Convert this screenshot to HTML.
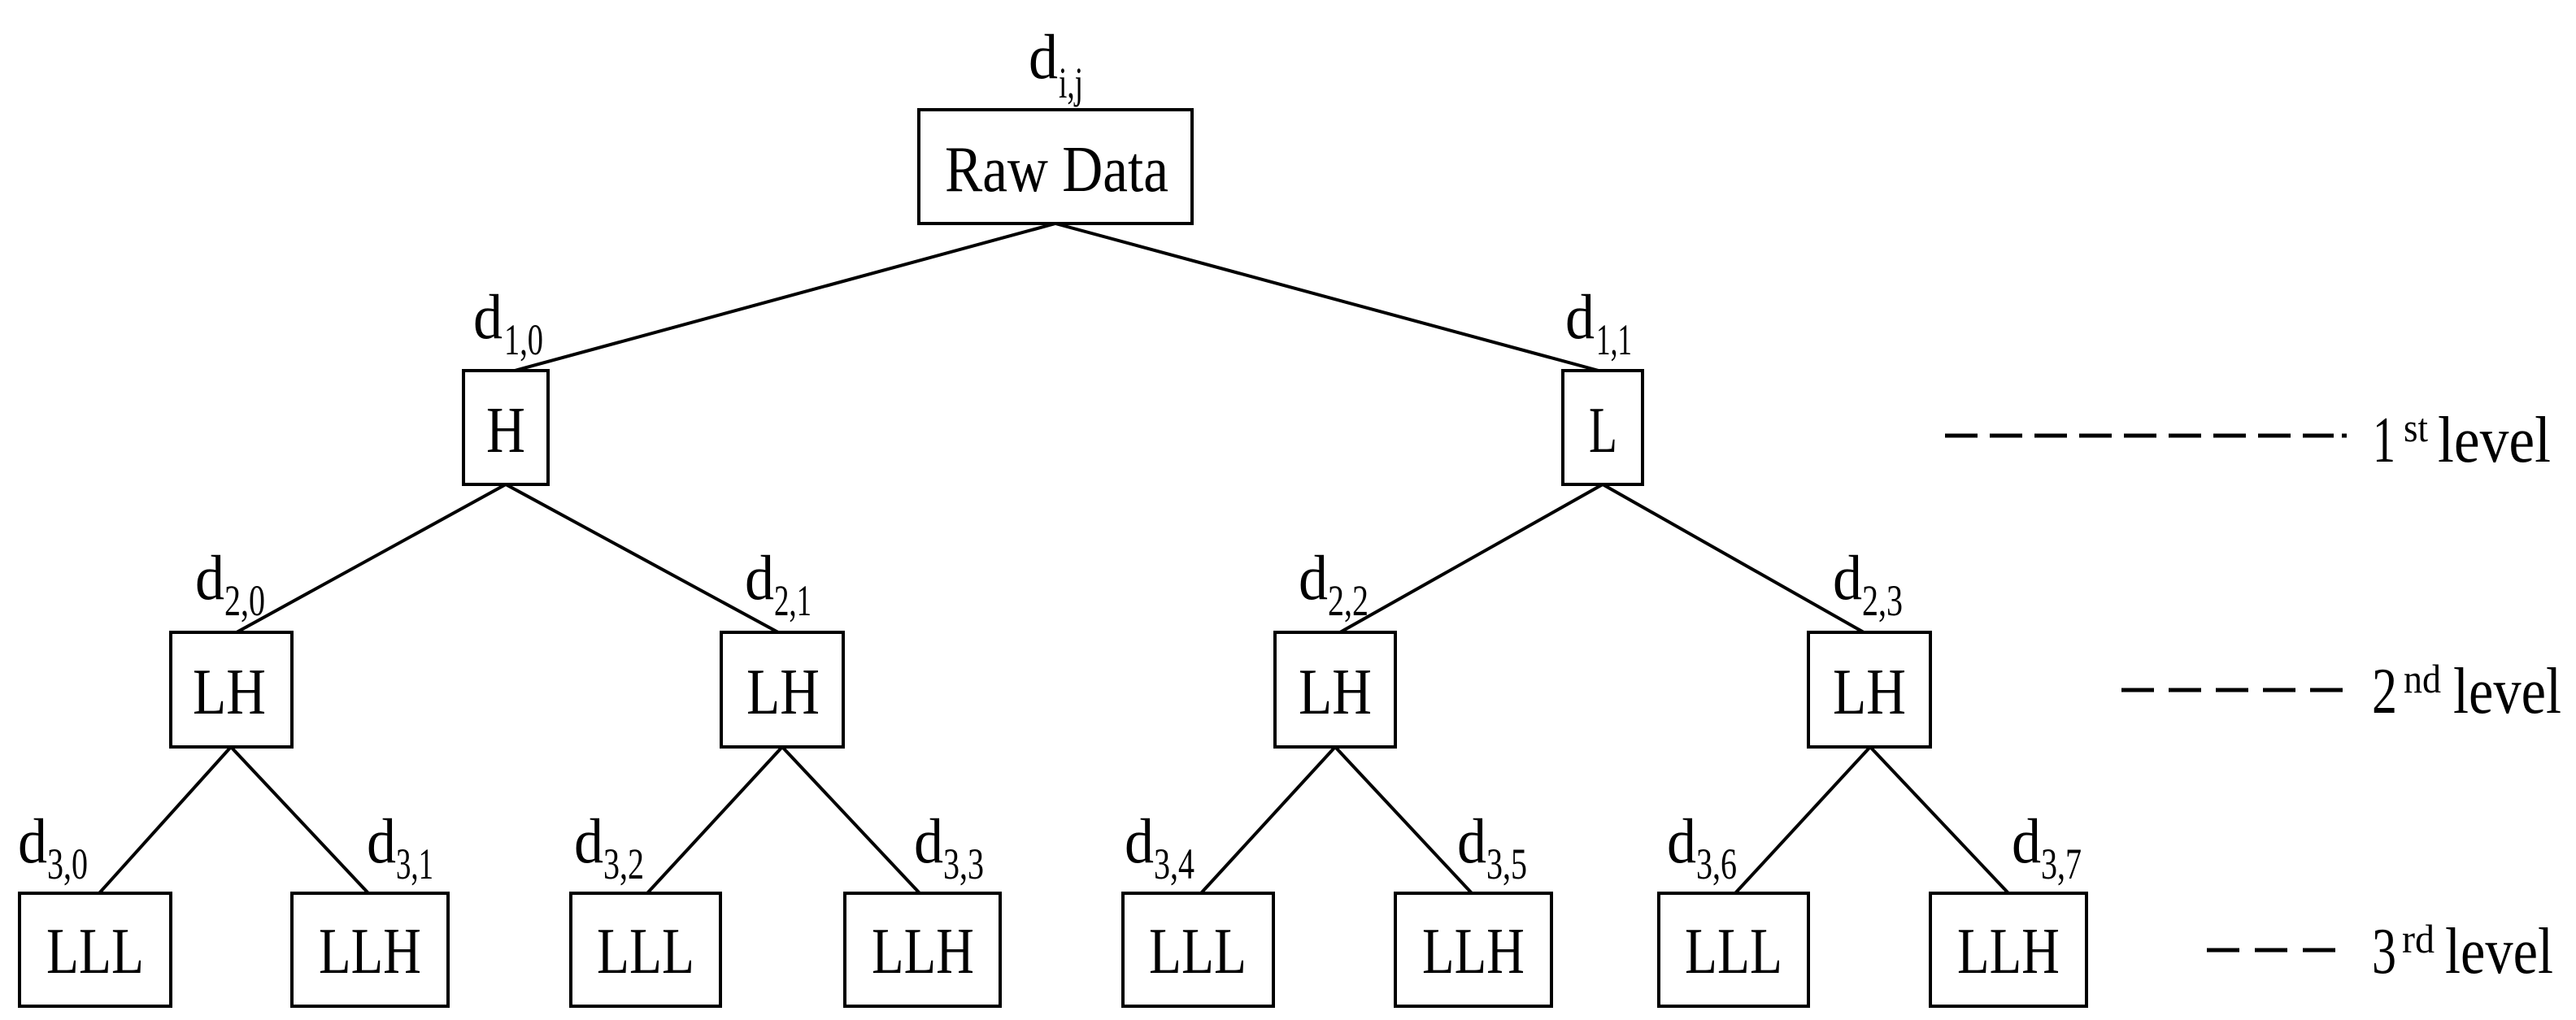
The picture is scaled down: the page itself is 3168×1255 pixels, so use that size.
<!DOCTYPE html>
<html><head><meta charset="utf-8"><style>html,body{margin:0;padding:0;background:#fff}svg{display:block}</style></head>
<body>
<svg width="3168" height="1255" viewBox="0 0 3168 1255" xmlns="http://www.w3.org/2000/svg" font-family="Liberation Serif, serif" fill="#000">
<g stroke="#000" stroke-width="4" fill="none">
<line x1="1298" y1="275" x2="633" y2="456"/>
<line x1="1298" y1="275" x2="1966" y2="456"/>
<line x1="622" y1="596" x2="291" y2="778"/>
<line x1="622" y1="596" x2="957" y2="778"/>
<line x1="1971" y1="596" x2="1648" y2="778"/>
<line x1="1971" y1="596" x2="2292" y2="778"/>
<line x1="284" y1="919" x2="122" y2="1099"/>
<line x1="284" y1="919" x2="453" y2="1099"/>
<line x1="962" y1="919" x2="796" y2="1099"/>
<line x1="962" y1="919" x2="1131" y2="1099"/>
<line x1="1642" y1="919" x2="1477" y2="1099"/>
<line x1="1642" y1="919" x2="1810" y2="1099"/>
<line x1="2300" y1="919" x2="2134" y2="1099"/>
<line x1="2300" y1="919" x2="2470" y2="1099"/>
<rect x="1130" y="135" width="336" height="140" fill="#fff"/>
<rect x="570" y="456" width="104" height="140" fill="#fff"/>
<rect x="1922" y="456" width="98" height="140" fill="#fff"/>
<rect x="210" y="778" width="149" height="141" fill="#fff"/>
<rect x="887" y="778" width="150" height="141" fill="#fff"/>
<rect x="1568" y="778" width="148" height="141" fill="#fff"/>
<rect x="2224" y="778" width="150" height="141" fill="#fff"/>
<rect x="24" y="1099" width="186" height="139" fill="#fff"/>
<rect x="359" y="1099" width="192" height="139" fill="#fff"/>
<rect x="702" y="1099" width="184" height="139" fill="#fff"/>
<rect x="1039" y="1099" width="191" height="139" fill="#fff"/>
<rect x="1381" y="1099" width="185" height="139" fill="#fff"/>
<rect x="1716" y="1099" width="192" height="139" fill="#fff"/>
<rect x="2040" y="1099" width="184" height="139" fill="#fff"/>
<rect x="2374" y="1099" width="192" height="139" fill="#fff"/>
</g>
<g font-size="80" lengthAdjust="spacingAndGlyphs">
<text x="1162" y="235" textLength="275" lengthAdjust="spacingAndGlyphs">Raw Data</text>
<text x="598" y="556" textLength="48" lengthAdjust="spacingAndGlyphs">H</text>
<text x="1954" y="556" textLength="35" lengthAdjust="spacingAndGlyphs">L</text>
<text x="237" y="878" textLength="90" lengthAdjust="spacingAndGlyphs">LH</text>
<text x="918" y="878" textLength="90" lengthAdjust="spacingAndGlyphs">LH</text>
<text x="1597" y="878" textLength="90" lengthAdjust="spacingAndGlyphs">LH</text>
<text x="2254" y="878" textLength="90" lengthAdjust="spacingAndGlyphs">LH</text>
<text x="57" y="1197" textLength="120" lengthAdjust="spacingAndGlyphs">LLL</text>
<text x="392" y="1197" textLength="126" lengthAdjust="spacingAndGlyphs">LLH</text>
<text x="734" y="1197" textLength="120" lengthAdjust="spacingAndGlyphs">LLL</text>
<text x="1072" y="1197" textLength="126" lengthAdjust="spacingAndGlyphs">LLH</text>
<text x="1413" y="1197" textLength="120" lengthAdjust="spacingAndGlyphs">LLL</text>
<text x="1749" y="1197" textLength="126" lengthAdjust="spacingAndGlyphs">LLH</text>
<text x="2072" y="1197" textLength="120" lengthAdjust="spacingAndGlyphs">LLL</text>
<text x="2407" y="1197" textLength="126" lengthAdjust="spacingAndGlyphs">LLH</text>
</g>
<g font-size="78">
<text x="1265" y="96" textLength="36" lengthAdjust="spacingAndGlyphs">d</text>
<text x="582" y="416" textLength="36" lengthAdjust="spacingAndGlyphs">d</text>
<text x="1925" y="416" textLength="36" lengthAdjust="spacingAndGlyphs">d</text>
<text x="240" y="737" textLength="36" lengthAdjust="spacingAndGlyphs">d</text>
<text x="916" y="737" textLength="36" lengthAdjust="spacingAndGlyphs">d</text>
<text x="1597" y="737" textLength="36" lengthAdjust="spacingAndGlyphs">d</text>
<text x="2254" y="737" textLength="36" lengthAdjust="spacingAndGlyphs">d</text>
<text x="22" y="1061" textLength="36" lengthAdjust="spacingAndGlyphs">d</text>
<text x="451" y="1061" textLength="36" lengthAdjust="spacingAndGlyphs">d</text>
<text x="706" y="1061" textLength="36" lengthAdjust="spacingAndGlyphs">d</text>
<text x="1124" y="1061" textLength="36" lengthAdjust="spacingAndGlyphs">d</text>
<text x="1383" y="1061" textLength="36" lengthAdjust="spacingAndGlyphs">d</text>
<text x="1792" y="1061" textLength="36" lengthAdjust="spacingAndGlyphs">d</text>
<text x="2050" y="1061" textLength="36" lengthAdjust="spacingAndGlyphs">d</text>
<text x="2474" y="1061" textLength="36" lengthAdjust="spacingAndGlyphs">d</text>
</g>
<g font-size="54">
<text x="1302" y="120" textLength="30" lengthAdjust="spacingAndGlyphs">i,j</text>
<text x="620" y="436" textLength="48" lengthAdjust="spacingAndGlyphs">1,0</text>
<text x="1963" y="436" textLength="44" lengthAdjust="spacingAndGlyphs">1,1</text>
<text x="276" y="757" textLength="50" lengthAdjust="spacingAndGlyphs">2,0</text>
<text x="952" y="757" textLength="46" lengthAdjust="spacingAndGlyphs">2,1</text>
<text x="1633" y="757" textLength="50" lengthAdjust="spacingAndGlyphs">2,2</text>
<text x="2290" y="757" textLength="50" lengthAdjust="spacingAndGlyphs">2,3</text>
<text x="58" y="1081" textLength="50" lengthAdjust="spacingAndGlyphs">3,0</text>
<text x="487" y="1081" textLength="46" lengthAdjust="spacingAndGlyphs">3,1</text>
<text x="742" y="1081" textLength="50" lengthAdjust="spacingAndGlyphs">3,2</text>
<text x="1160" y="1081" textLength="50" lengthAdjust="spacingAndGlyphs">3,3</text>
<text x="1419" y="1081" textLength="50" lengthAdjust="spacingAndGlyphs">3,4</text>
<text x="1828" y="1081" textLength="50" lengthAdjust="spacingAndGlyphs">3,5</text>
<text x="2086" y="1081" textLength="50" lengthAdjust="spacingAndGlyphs">3,6</text>
<text x="2510" y="1081" textLength="50" lengthAdjust="spacingAndGlyphs">3,7</text>
</g>
<g stroke="#000" stroke-width="5">
<line x1="2392" y1="536" x2="2870" y2="536" stroke-dasharray="40 15"/>
<line x1="2880" y1="536" x2="2886" y2="536"/>
<line x1="2609" y1="849" x2="2882" y2="849" stroke-dasharray="40 18"/>
<line x1="2714" y1="1169" x2="2882" y2="1169" stroke-dasharray="40 19"/>
</g>
<g font-size="80">
<text x="2918" y="568" textLength="28" lengthAdjust="spacingAndGlyphs">1</text>
<text x="2956" y="543" font-size="50" textLength="30" lengthAdjust="spacingAndGlyphs">st</text>
<text x="2998" y="568" textLength="139" lengthAdjust="spacingAndGlyphs">level</text>
<text x="2917" y="877" textLength="31" lengthAdjust="spacingAndGlyphs">2</text>
<text x="2956" y="852" font-size="50" textLength="46" lengthAdjust="spacingAndGlyphs">nd</text>
<text x="3017" y="877" textLength="133" lengthAdjust="spacingAndGlyphs">level</text>
<text x="2917" y="1197" textLength="30" lengthAdjust="spacingAndGlyphs">3</text>
<text x="2954" y="1172" font-size="50" textLength="40" lengthAdjust="spacingAndGlyphs">rd</text>
<text x="3007" y="1197" textLength="133" lengthAdjust="spacingAndGlyphs">level</text>
</g>
</svg>
</body></html>
